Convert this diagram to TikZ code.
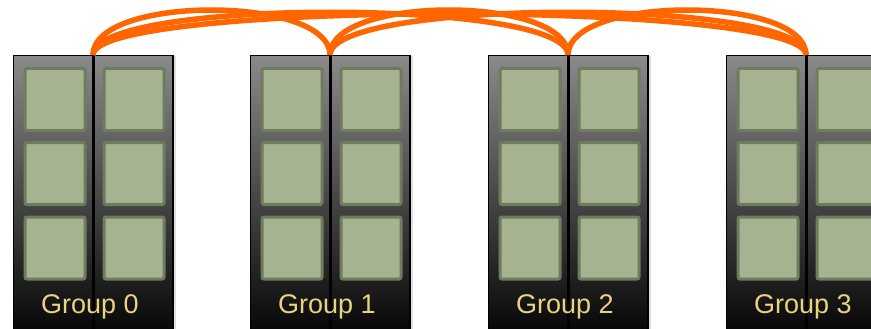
\documentclass[tikz,border=0pt]{standalone}
\usepackage{fontspec}
\setmainfont{Liberation Sans}
\usetikzlibrary{shadows}
\definecolor{linkorange}{RGB}{255,102,0}
\definecolor{cellgreen}{RGB}{166,179,145}
\definecolor{cellrim}{RGB}{111,123,95}
\definecolor{colgray}{RGB}{138,138,138}
\definecolor{labelyellow}{RGB}{234,210,130}
\tikzset{
  column/.style={draw=black, line width=1.5pt, top color=colgray, bottom color=black,
    minimum width=79, minimum height=290, inner sep=0pt,
    drop shadow={shadow xshift=3pt, shadow yshift=0pt, opacity=.25}},
  cell/.style={draw=cellrim, fill=cellgreen, line width=3pt, rounded corners=2pt,
    minimum width=60, minimum height=62, inner sep=0pt},
  grouplabel/.style={text=labelyellow, font=\fontsize{27}{30}\selectfont, anchor=base},
  link/.style={draw=linkorange, line width=5.5pt}
}
\begin{document}
\begin{tikzpicture}[x=1pt,y=-1pt]
    \useasboundingbox (0,0) rectangle (871,329);
    \clip (0,0) rectangle (871,329);
    \foreach \i/\x in {0/93,1/330,2/568,3/806} {
        \node[column, anchor=north east] (col\i a) at (\x,55) {};
        \node[column, anchor=north west] (col\i b) at (\x,55) {};
        \foreach \r/\y in {1/99.5,2/173.5,3/248} {
            \node[cell] (cell\i a\r) at (\x-38,\y) {};
            \node[cell] (cell\i b\r) at (\x+41,\y) {};
        }
        \node[grouplabel] (label\i) at (\x-3,313) {Group \i};
        \coordinate (top\i) at (\x,55);
    }
    \draw[link] (top0) .. controls +(0,-60) and +(0,-60) .. (top1);
    \draw[link] (top1) .. controls +(0,-60) and +(0,-60) .. (top2);
    \draw[link] (top2) .. controls +(0,-60) and +(0,-60) .. (top3);
    \draw[link] (top0) .. controls +(0,-57) and +(0,-57) .. (top2);
    \draw[link] (top1) .. controls +(0,-57) and +(0,-57) .. (top3);
    \draw[link] (top0) .. controls +(0,-55) and +(0,-55) .. (top3);
\end{tikzpicture}
\end{document}
